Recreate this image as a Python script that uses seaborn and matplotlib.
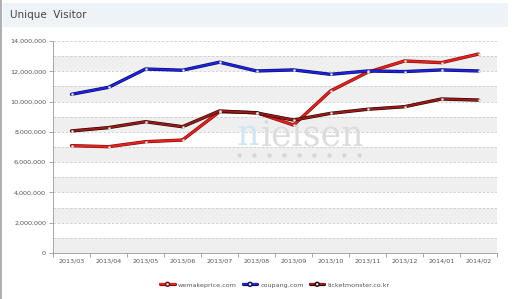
import matplotlib
matplotlib.use("Agg")
import matplotlib.pyplot as plt
import matplotlib.patheffects as pe
import matplotlib.ticker as mticker
from matplotlib.patches import Rectangle
from matplotlib.lines import Line2D
import seaborn as sns
import pandas as pd

months = ["2013/03", "2013/04", "2013/05", "2013/06", "2013/07", "2013/08",
          "2013/09", "2013/10", "2013/11", "2013/12", "2014/01", "2014/02"]
wemakeprice = [7.09, 7.02, 7.35, 7.46, 9.33, 9.27, 8.45, 10.70, 11.93, 12.68, 12.57, 13.14]
coupang = [10.48, 10.94, 12.15, 12.07, 12.60, 12.02, 12.09, 11.80, 12.02, 11.98, 12.09, 12.02]
ticketmonster = [8.06, 8.28, 8.67, 8.34, 9.38, 9.25, 8.78, 9.22, 9.49, 9.66, 10.17, 10.10]
series_names = ["wemakeprice.com", "coupang.com", "ticketmonster.co.kr"]
colors = ["#e8201c", "#1a22e0", "#9a1a16"]
outlines = ["#7a1010", "#101060", "#2a0505"]

rows = []
for name, vals in zip(series_names, [wemakeprice, coupang, ticketmonster]):
    for i, (m, v) in enumerate(zip(months, vals)):
        rows.append({"month": m, "idx": i, "value": v * 1e6, "site": name})
df = pd.DataFrame(rows)

sns.set_theme(style="white")
plt.rcParams['font.family'] = ['DejaVu Sans']

fig = plt.figure(figsize=(5.14, 2.99), dpi=100)
fig.patch.set_facecolor("white")

# title bar
fig.patches.append(Rectangle((3/514, 1 - 27/299), 505/514, 24/299, transform=fig.transFigure,
                             facecolor="#eef3f8", edgecolor="none", zorder=0))
fig.patches.append(Rectangle((0, 0), 2/514, 1, transform=fig.transFigure,
                             facecolor="#b0b0b0", edgecolor="none", zorder=0))
fig.text(10/514, 1 - 15/299, "Unique  Visitor", fontsize=7.5, color="#444444", va="center", ha="left")

ax = fig.add_axes([53/514, 1 - 253/299, 444/514, 212/299])
ax.set_xlim(-0.5, len(months) - 0.5)
ax.set_ylim(0, 14e6)

# alternating bands
for k in range(0, 14, 2):
    ax.axhspan(k * 1e6, (k + 1) * 1e6, color="#efefef", zorder=0, lw=0)
for k in range(1, 15):
    ax.axhline(k * 1e6, color="#cccccc", lw=0.6, ls=(0, (3, 2)), zorder=0.5)

# watermark
t1 = ax.text(4.47, 7.13e6, "n", fontsize=25, family="DejaVu Serif", color="#cfe6f3",
             ha="left", va="baseline", zorder=1)
fig.canvas.draw()
bb = t1.get_window_extent(renderer=fig.canvas.get_renderer())
x_right = ax.transData.inverted().transform((bb.x1 + 1, bb.y0))[0]
ax.text(x_right, 7.13e6, "ielsen", fontsize=25, family="DejaVu Serif", color="#dcdcdc",
        ha="left", va="baseline", zorder=1)
for i in range(9):
    ax.plot(4.53 + i * 0.405, 6.47e6, "o", ms=2.3, color="#d8d8d8", zorder=1)

for name, c, oc in zip(series_names, colors, outlines):
    sub = df[df["site"] == name]
    sns.lineplot(data=sub, x="idx", y="value", ax=ax, color=c, lw=1.5, legend=False, zorder=3,
                 path_effects=[pe.Stroke(linewidth=2.4, foreground=oc), pe.Normal()])
    sns.scatterplot(data=sub, x="idx", y="value", ax=ax, s=3, color="#f0f0f0",
                    edgecolor="#aaaaaa", linewidth=0.2, legend=False, zorder=4)

ax.set_xlabel("")
ax.set_ylabel("")
ax.set_xticks(range(len(months)))
ax.set_xticklabels(months)
ax.set_xticks([i - 0.5 for i in range(len(months) + 1)], minor=True)
ax.tick_params(axis="x", which="major", length=0, labelsize=4.6, labelcolor="#555555", pad=4)
ax.tick_params(axis="x", which="minor", length=3, color="#999999", width=0.6, direction="out", bottom=True)
ax.yaxis.set_major_locator(mticker.MultipleLocator(2e6))
ax.yaxis.set_major_formatter(mticker.FuncFormatter(lambda v, p: f"{int(v):,}"))
ax.tick_params(axis="y", which="major", length=3, color="#999999", width=0.6, direction="out",
               left=True, labelsize=4.6, labelcolor="#555555", pad=2)
for s in ["top", "right"]:
    ax.spines[s].set_visible(False)
for s in ["left", "bottom"]:
    ax.spines[s].set_color("#999999")
    ax.spines[s].set_linewidth(0.6)

handles = [Line2D([], [], color=c, lw=1.5, marker="o", markersize=1.6,
                  markerfacecolor="#f4f4f4", markeredgecolor="#bbbbbb", markeredgewidth=0.2,
                  path_effects=[pe.Stroke(linewidth=2.3, foreground=oc), pe.Normal()])
           for c, oc in zip(colors, outlines)]
leg = ax.legend(handles, series_names, loc="center", bbox_to_anchor=(0.5, -0.15), ncol=3,
                frameon=False, fontsize=4.6, handlelength=2.2, columnspacing=1.0, handletextpad=0.5)
for t in leg.get_texts():
    t.set_color("#555555")

fig.savefig("out.png", dpi=100)
